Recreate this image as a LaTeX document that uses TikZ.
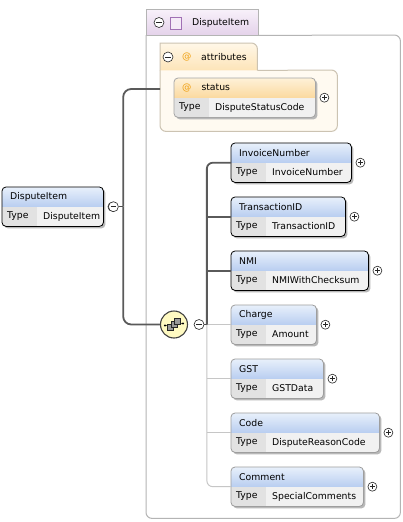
\documentclass[tikz,border=0pt]{standalone}
\usepackage{fontspec}
\setmainfont{DejaVu Sans}
\usetikzlibrary{calc}

\definecolor{hdtop}{HTML}{E8F0FB}
\definecolor{hdbot}{HTML}{B8CDF0}
\definecolor{sttop}{HTML}{FEF1D8}
\definecolor{stbot}{HTML}{FBD99E}
\definecolor{attop}{HTML}{FFF7E8}
\definecolor{atbot}{HTML}{FDE4B8}
\definecolor{atfill}{HTML}{FFFAF1}
\definecolor{atborder}{HTML}{CCC3B2}
\definecolor{atorange}{HTML}{F0A010}
\definecolor{ittop}{HTML}{F8F1FA}
\definecolor{itbot}{HTML}{E4D2EA}
\definecolor{itborder}{HTML}{B4B4B4}
\definecolor{sqborder}{HTML}{A070B4}
\definecolor{sqfill}{HTML}{F4EAF7}
\definecolor{typegray}{HTML}{E2E2E2}
\definecolor{valgray}{HTML}{F1F1F1}
\definecolor{reqgray}{HTML}{5A5A5A}
\definecolor{optgray}{HTML}{C6C6C6}
\definecolor{seqfill}{HTML}{FFFAC2}

\tikzset{
  lbl/.style={font=\fontsize{9.3}{11}\selectfont, text=black, inner sep=0pt, anchor=west},
  elbox/.style={inner sep=0pt, minimum height=39pt},
  elshadow/.style={fill=black!28, rounded corners=4pt},
  reqbox/.style={draw=black, line width=.8pt},
  optbox/.style={draw=black!38, line width=.8pt},
  stbox/.style={draw=black!35, line width=.8pt},
  hdblue/.style={top color=hdtop, bottom color=hdbot},
  hdorange/.style={top color=sttop, bottom color=stbot},
  reqline/.style={draw=reqgray, line width=1.8pt},
  optline/.style={draw=optgray, line width=1pt},
  thinline/.style={draw=black!70, line width=.7pt},
  plusbox/.style={circle, draw=black!85, line width=.6pt, fill=white, inner sep=0pt, minimum size=9pt,
    path picture={\draw[line width=.6pt]
      ([xshift=-2.3pt]path picture bounding box.center) -- ([xshift=2.3pt]path picture bounding box.center)
      ([yshift=-2.3pt]path picture bounding box.center) -- ([yshift=2.3pt]path picture bounding box.center);}},
  minusbox/.style={circle, draw=black!85, line width=.6pt, fill=white, inner sep=0pt, minimum size=10pt,
    path picture={\draw[line width=.6pt]
      ([xshift=-2.6pt]path picture bounding box.center) -- ([xshift=2.6pt]path picture bounding box.center);}},
  seqbox/.style={circle, draw=black!75, line width=1.1pt, fill=seqfill, inner sep=0pt, minimum size=27pt},
  seqsq/.style={draw=black!85, fill=black!40, line width=.5pt, inner sep=0pt, minimum size=6pt}
}

% name, x, y, width, label, type, border style, header style
\newcommand\xelem[8]{%
  \node[elbox, minimum width=#4pt, anchor=north west] (#1) at (#2,#3) {};
  \fill[elshadow] ($(#1.north west)+(2,2)$) rectangle ($(#1.south east)+(2,2)$);
  \begin{scope}
    \clip[rounded corners=4pt] (#1.north west) rectangle (#1.south east);
    \shade[#8] (#1.north west) rectangle ($(#1.north east)+(0,20)$);
    \fill[typegray] ($(#1.north west)+(0,20)$) rectangle ($(#1.south west)+(35,0)$);
    \fill[valgray] ($(#1.north west)+(35,20)$) rectangle (#1.south east);
  \end{scope}
  \draw[#7, rounded corners=4pt] (#1.north west) rectangle (#1.south east);
  \node[lbl] (#1-l) at ($(#1.north west)+(8,10)$) {#5};
  \node[lbl] (#1-k) at ($(#1.north west)+(5,29.5)$) {Type};
  \node[lbl] (#1-v) at ($(#1.north west)+(41,29.5)$) {#6};
  \node[plusbox] (#1-p) at ($(#1.east)+(9,0)$) {};
}

\begin{document}
\begin{tikzpicture}[x=1pt,y=-1pt]
\useasboundingbox[fill=white] (0,0) rectangle (402,522);

% complex type box
\node[inner sep=0pt, minimum width=112pt, minimum height=26pt, anchor=north west] (itemtab) at (146,9) {};
\node[inner sep=0pt, minimum width=254pt, minimum height=483pt, anchor=north west] (itembox) at (146,35) {};
\draw[draw=itborder, line width=1pt, rounded corners=6pt] (itemtab.south east) -- (itembox.north east)
  -- (itembox.south east) -- (itembox.south west) -- (itembox.north west);
\shadedraw[top color=ittop, bottom color=itbot, draw=itborder, line width=1pt] (itemtab.north west) rectangle (itemtab.south east);
\node[minusbox] (itemm) at (159,22.5) {};
\node[draw=sqborder, fill=sqfill, line width=.7pt, minimum width=11pt, minimum height=12pt, inner sep=0pt] (itemsq) at (176,23) {};
\node[lbl] (itemlbl) at (192,22.5) {DisputeItem};

% attributes
\node[inner sep=0pt, minimum width=97pt, minimum height=27pt, anchor=north west] (atttab) at (160,43) {};
\node[inner sep=0pt, minimum width=177pt, minimum height=61pt, anchor=north west] (attbox) at (160,70) {};
\filldraw[fill=atfill, draw=atborder, line width=1pt, rounded corners=6pt] (atttab.south east) -- (attbox.north east)
  -- (attbox.south east) -- (attbox.south west) -- (attbox.north west);
\shadedraw[top color=attop, bottom color=atbot, draw=atborder, line width=1pt] (atttab.south west) -- (atttab.north west)
  [rounded corners=6pt] -- (atttab.north east) [sharp corners] -- (atttab.south east);
\node[minusbox] (attm) at (168,57) {};
\node[lbl, text=atorange] (attat) at (182,57) {@};
\node[lbl] (attlbl) at (201,57) {attributes};

\xelem{status}{174}{78}{141}{\textcolor{atorange}{@}\hspace{10pt}status}{DisputeStatusCode}{stbox}{hdorange}

% root element
\xelem{root}{2}{187}{101}{DisputeItem}{DisputeItem}{reqbox}{hdblue}
\node[minusbox] (rootm) at ($(root.east)+(10,0)$) {};
\coordinate (rtrunk) at ($(rootm.east)+(4.5,0)$);
\coordinate (attin) at ($(attbox.west |- status.north)+(0,11)$);

% sequence
\node[seqbox] (seq) at (174,324.5) {};
\draw[line width=.6pt] ($(seq.center)+(-9,1)$) -- ($(seq.center)+(9,-1)$);
\fill ($(seq.center)+(-9,1)$) circle (1.1) ($(seq.center)+(9,-1)$) circle (1.1);
\node[seqsq] (sq1) at ($(seq.center)+(-3.5,3)$) {};
\node[seqsq] (sq2) at ($(seq.center)+(0,0)$) {};
\node[seqsq] (sq3) at ($(seq.center)+(3.5,-3)$) {};
\node[minusbox] (seqm) at ($(seq.east)+(11,0)$) {};
\coordinate (ctrunk) at ($(seqm.east)+(2.5,0)$);

\draw[thinline] (rootm.east) -- (rtrunk);
\draw[reqline, rounded corners=8pt] (rtrunk) |- (attin);
\draw[reqline, rounded corners=8pt] (rtrunk) |- (seq.west);

% children
\xelem{inv}{231}{143}{120}{InvoiceNumber}{InvoiceNumber}{reqbox}{hdblue}
\xelem{tid}{231}{197}{114}{TransactionID}{TransactionID}{reqbox}{hdblue}
\xelem{nmi}{231}{251}{137}{NMI}{NMIWithChecksum}{reqbox}{hdblue}
\xelem{chg}{231}{305}{85}{Charge}{Amount}{optbox}{hdblue}
\xelem{gst}{231}{359}{92}{GST}{GSTData}{optbox}{hdblue}
\xelem{code}{231}{413}{148}{Code}{DisputeReasonCode}{optbox}{hdblue}
\xelem{cmt}{231}{467}{132}{Comment}{SpecialComments}{optbox}{hdblue}

\draw[optline] (ctrunk |- chg.west) -- (chg.west);
\draw[optline] (ctrunk |- gst.west) -- (gst.west);
\draw[optline] (ctrunk |- code.west) -- (code.west);
\draw[optline, rounded corners=6pt] (ctrunk) |- (cmt.west);
\draw[thinline] (seqm.east) -- (ctrunk);
\draw[reqline, rounded corners=6pt] (ctrunk) |- (inv.west);
\draw[reqline] (ctrunk |- tid.west) -- (tid.west);
\draw[reqline] (ctrunk |- nmi.west) -- (nmi.west);

\end{tikzpicture}
\end{document}
